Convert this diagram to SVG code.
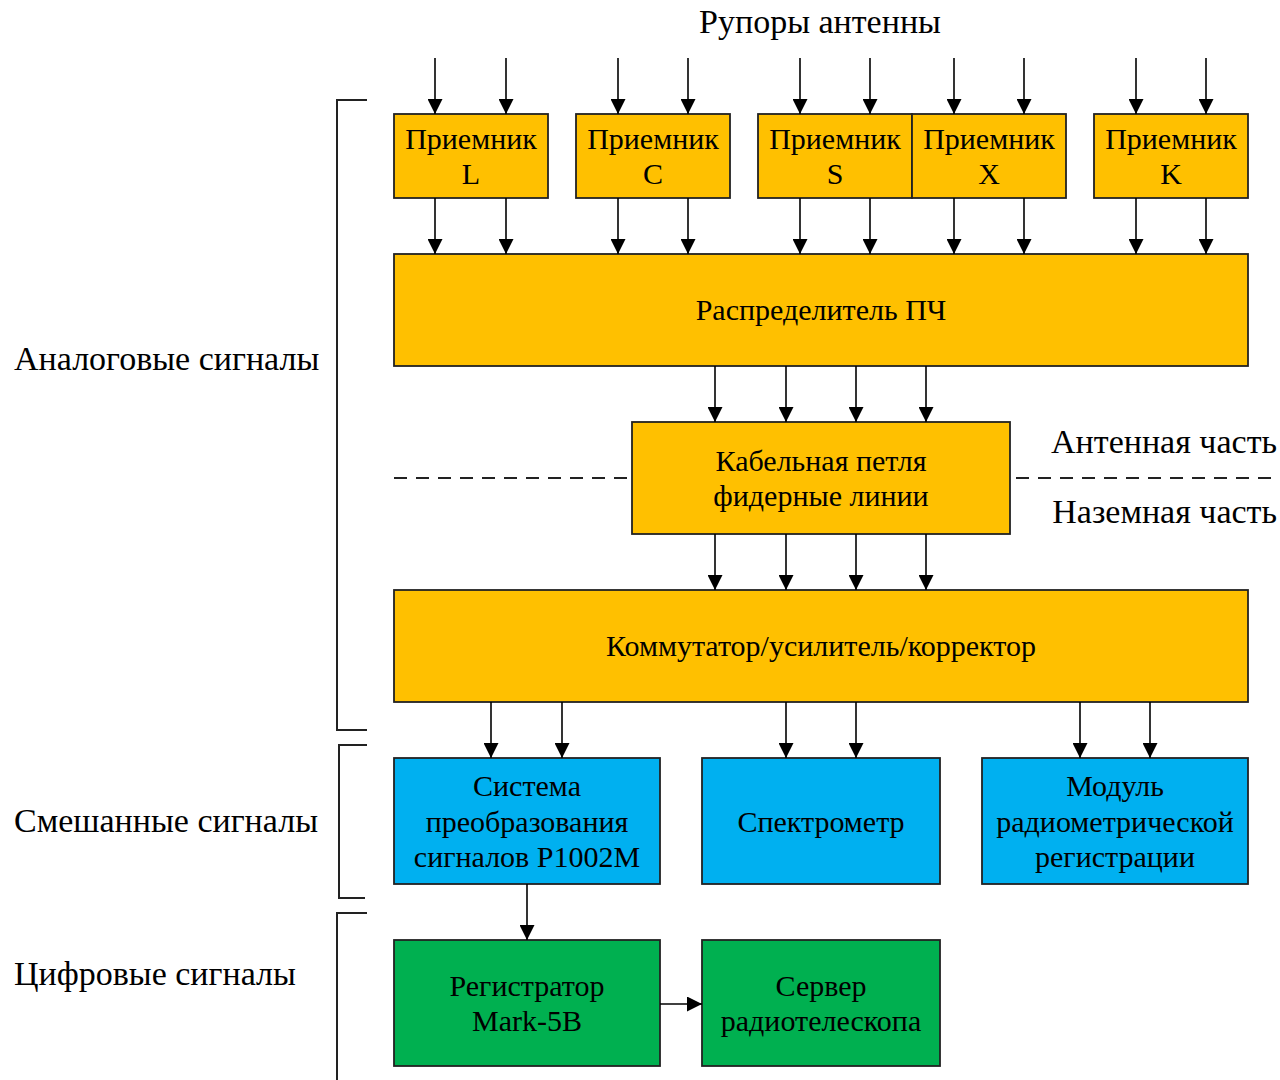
<svg xmlns="http://www.w3.org/2000/svg" width="1280" height="1080" viewBox="0 0 1280 1080">
<defs>
<marker id="ah" markerWidth="15" markerHeight="15" refX="15" refY="7.5" orient="auto" markerUnits="userSpaceOnUse">
<path d="M0,0 L15,7.5 L0,15 Z" fill="#000"/>
</marker>
<style>
text{font-family:"Liberation Serif","Times New Roman",serif;font-size:30px;fill:#000;text-anchor:middle;dominant-baseline:central}
text.l{font-size:34px}
text.s{text-anchor:start}
text.e{text-anchor:end}
.o{fill:#FFC000;stroke:#222;stroke-width:1.8}
.b{fill:#00B0F0;stroke:#222;stroke-width:1.8}
.g{fill:#00B050;stroke:#222;stroke-width:1.8}
.c line{stroke:#000;stroke-width:1.6;marker-end:url(#ah)}
.br{fill:none;stroke:#222;stroke-width:2}
.d{stroke:#222;stroke-width:1.8;stroke-dasharray:13,9}
</style>
</defs>
<rect width="1280" height="1080" fill="#fff"/>
<text class="l" x="820" y="21">Рупоры антенны</text>
<g id="brackets">
<path class="br" d="M367,100 H337 V730 H367"/>
<path class="br" d="M367,745 H339 V898 H365"/>
<path class="br" d="M367,913 H337 V1080"/>
</g>
<text class="l s" x="14" y="358">Аналоговые сигналы</text>
<text class="l s" x="14" y="820">Смешанные сигналы</text>
<text class="l s" x="14" y="973">Цифровые сигналы</text>
<g id="rxL"><rect class="o" x="394" y="114" width="154" height="84"/><text x="471" y="138">Приемник</text><text x="471" y="173">L</text></g>
<g id="rxC"><rect class="o" x="576" y="114" width="154" height="84"/><text x="653" y="138">Приемник</text><text x="653" y="173">C</text></g>
<g id="rxS"><rect class="o" x="758" y="114" width="154" height="84"/><text x="835" y="138">Приемник</text><text x="835" y="173">S</text></g>
<g id="rxX"><rect class="o" x="912" y="114" width="154" height="84"/><text x="989" y="138">Приемник</text><text x="989" y="173">X</text></g>
<g id="rxK"><rect class="o" x="1094" y="114" width="154" height="84"/><text x="1171" y="138">Приемник</text><text x="1171" y="173">K</text></g>
<g id="dist"><rect class="o" x="394" y="254" width="854" height="112"/><text x="821" y="309">Распределитель ПЧ</text></g>
<g id="cable"><rect class="o" x="632" y="422" width="378" height="112"/><text x="821" y="460">Кабельная петля</text><text x="821" y="495">фидерные линии</text></g>
<line class="d" x1="394" y1="478" x2="632" y2="478"/>
<line class="d" x1="1016" y1="478" x2="1280" y2="478"/>
<text class="l e" x="1277" y="441">Антенная часть</text>
<text class="l e" x="1277" y="511">Наземная часть</text>
<g id="switch"><rect class="o" x="394" y="590" width="854" height="112"/><text x="821" y="645">Коммутатор/усилитель/корректор</text></g>
<g id="conv"><rect class="b" x="394" y="758" width="266" height="126"/><text x="527" y="785">Система</text><text x="527" y="821">преобразования</text><text x="527" y="856">сигналов Р1002М</text></g>
<g id="spec"><rect class="b" x="702" y="758" width="238" height="126"/><text x="821" y="821">Спектрометр</text></g>
<g id="radiom"><rect class="b" x="982" y="758" width="266" height="126"/><text x="1115" y="785">Модуль</text><text x="1115" y="821">радиометрической</text><text x="1115" y="856">регистрации</text></g>
<g id="rec"><rect class="g" x="394" y="940" width="266" height="126"/><text x="527" y="985">Регистратор</text><text x="527" y="1020">Mark-5B</text></g>
<g id="server"><rect class="g" x="702" y="940" width="238" height="126"/><text x="821" y="985">Сервер</text><text x="821" y="1020">радиотелескопа</text></g>
<g id="connectors" class="c">
<line x1="435" y1="58" x2="435" y2="114"/><line x1="506" y1="58" x2="506" y2="114"/>
<line x1="618" y1="58" x2="618" y2="114"/><line x1="688" y1="58" x2="688" y2="114"/>
<line x1="800" y1="58" x2="800" y2="114"/><line x1="870" y1="58" x2="870" y2="114"/>
<line x1="954" y1="58" x2="954" y2="114"/><line x1="1024" y1="58" x2="1024" y2="114"/>
<line x1="1136" y1="58" x2="1136" y2="114"/><line x1="1206" y1="58" x2="1206" y2="114"/>
<line x1="435" y1="198" x2="435" y2="254"/><line x1="506" y1="198" x2="506" y2="254"/>
<line x1="618" y1="198" x2="618" y2="254"/><line x1="688" y1="198" x2="688" y2="254"/>
<line x1="800" y1="198" x2="800" y2="254"/><line x1="870" y1="198" x2="870" y2="254"/>
<line x1="954" y1="198" x2="954" y2="254"/><line x1="1024" y1="198" x2="1024" y2="254"/>
<line x1="1136" y1="198" x2="1136" y2="254"/><line x1="1206" y1="198" x2="1206" y2="254"/>
<line x1="715" y1="366" x2="715" y2="422"/><line x1="786" y1="366" x2="786" y2="422"/>
<line x1="856" y1="366" x2="856" y2="422"/><line x1="926" y1="366" x2="926" y2="422"/>
<line x1="715" y1="534" x2="715" y2="590"/><line x1="786" y1="534" x2="786" y2="590"/>
<line x1="856" y1="534" x2="856" y2="590"/><line x1="926" y1="534" x2="926" y2="590"/>
<line x1="491" y1="702" x2="491" y2="758"/><line x1="562" y1="702" x2="562" y2="758"/>
<line x1="786" y1="702" x2="786" y2="758"/><line x1="856" y1="702" x2="856" y2="758"/>
<line x1="1080" y1="702" x2="1080" y2="758"/><line x1="1150" y1="702" x2="1150" y2="758"/>
<line x1="527" y1="884" x2="527" y2="940"/>
<line x1="660" y1="1004" x2="702" y2="1004"/>
</g>
</svg>
